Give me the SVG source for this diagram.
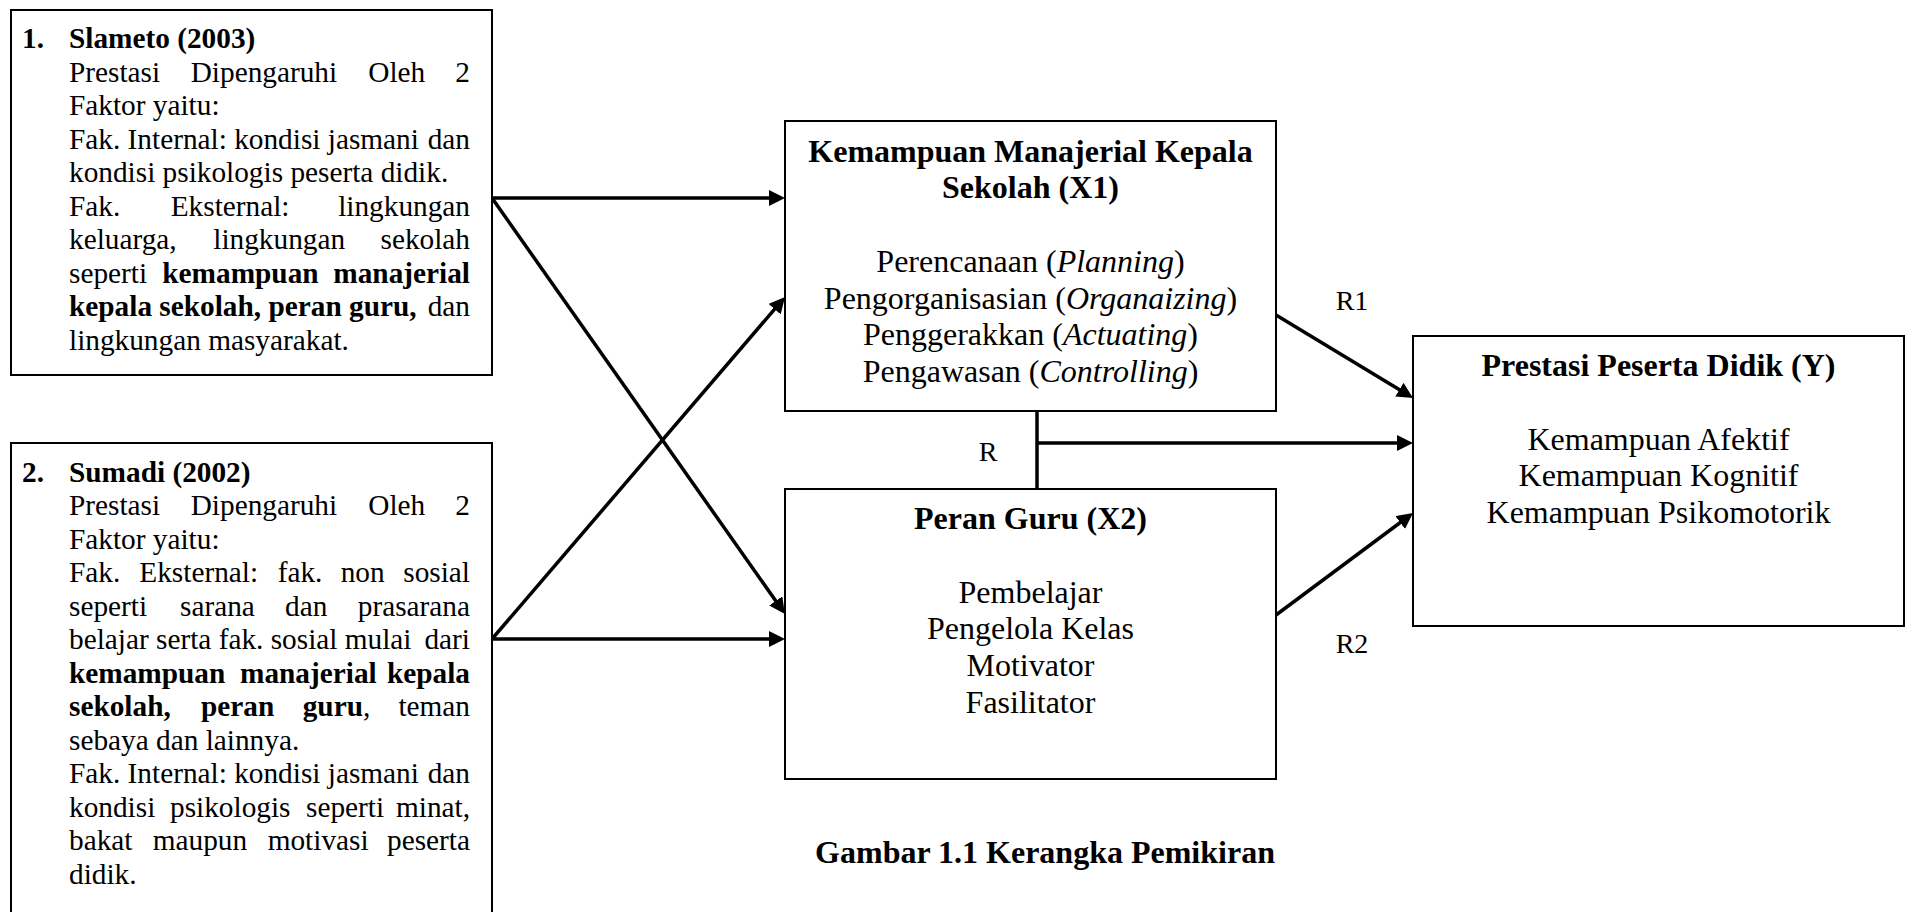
<svg xmlns="http://www.w3.org/2000/svg" width="1906" height="912" viewBox="0 0 1906 912">
<style>
.t{font-family:"Liberation Serif","Times New Roman",serif;fill:#000}
.l{font-size:29.3px}
.m{font-size:32px;text-anchor:middle}
.r{font-size:28px;text-anchor:middle}
.b{font-weight:bold}
.i{font-style:italic}
.e{text-anchor:end}
.box{fill:#fff;stroke:#000;stroke-width:2}
.c{stroke:#000;stroke-width:3.5;fill:none}
.a{marker-end:url(#ah)}
</style>
<defs>
<marker id="ah" markerUnits="userSpaceOnUse" markerWidth="16" markerHeight="16" refX="6" refY="8" orient="auto" viewBox="0 0 16 16">
<path d="M0,0 L16,8 L0,16 z" fill="#000"/>
</marker>
</defs>
<rect width="1906" height="912" fill="#fff"/>

<g id="connectors">
<line class="c a" x1="492" y1="198" x2="775" y2="198"/>
<line class="c a" x1="492" y1="198" x2="779.2" y2="605.8"/>
<line class="c a" x1="492" y1="639" x2="778.5" y2="304.6"/>
<line class="c a" x1="492" y1="639" x2="775" y2="639"/>
<line class="c" x1="1037" y1="411" x2="1037" y2="489"/>
<line class="c a" x1="1037" y1="443" x2="1403" y2="443"/>
<line class="c a" x1="1276" y1="315" x2="1404.5" y2="392.8"/>
<line class="c a" x1="1276" y1="615" x2="1405" y2="519"/>
<text class="t r" x="988" y="461">R</text>
<text class="t r" x="1352" y="310">R1</text>
<text class="t r" x="1352" y="653">R2</text>
</g>

<g id="slameto">
<rect class="box" x="11" y="10" width="481" height="365"/>
<text class="t l b" x="22" y="48">1.</text>
<text class="t l b" x="69" y="48">Slameto (2003)</text>
<text class="t l" y="81.5"><tspan x="69">Prestasi</tspan><tspan x="190.7">Dipengaruhi</tspan><tspan x="368.3">Oleh</tspan></text>
<text class="t l e" x="470" y="81.5">2</text>
<text class="t l" x="69" y="115">Faktor yaitu:</text>
<text class="t l" x="69" y="148.5">Fak. Internal: kondisi jasmani</text>
<text class="t l e" x="470" y="148.5">dan</text>
<text class="t l" x="69" y="182">kondisi psikologis peserta didik.</text>
<text class="t l" y="215.5"><tspan x="69">Fak.</tspan><tspan x="170.7">Eksternal:</tspan></text>
<text class="t l e" x="470" y="215.5">lingkungan</text>
<text class="t l" y="249"><tspan x="69">keluarga,</tspan><tspan x="213.3">lingkungan</tspan></text>
<text class="t l e" x="470" y="249">sekolah</text>
<text class="t l" y="282.5"><tspan x="69">seperti</tspan><tspan class="b" x="162.3">kemampuan</tspan></text>
<text class="t l b e" x="470" y="282.5">manajerial</text>
<text class="t l b" x="69" y="316">kepala sekolah, peran guru,</text>
<text class="t l e" x="470" y="316">dan</text>
<text class="t l" x="69" y="349.5">lingkungan masyarakat.</text>
</g>

<g id="sumadi">
<rect class="box" x="11" y="443" width="481" height="520"/>
<text class="t l b" x="22" y="481.5">2.</text>
<text class="t l b" x="69" y="481.5">Sumadi (2002)</text>
<text class="t l" y="515"><tspan x="69">Prestasi</tspan><tspan x="190.7">Dipengaruhi</tspan><tspan x="368.3">Oleh</tspan></text>
<text class="t l e" x="470" y="515">2</text>
<text class="t l" x="69" y="548.5">Faktor yaitu:</text>
<text class="t l" y="582"><tspan x="69">Fak.</tspan><tspan x="139.3">Eksternal:</tspan><tspan x="277.7">fak.</tspan><tspan x="340.7">non</tspan></text>
<text class="t l e" x="470" y="582">sosial</text>
<text class="t l" y="615.5"><tspan x="69">seperti</tspan><tspan x="180">sarana</tspan><tspan x="285">dan</tspan></text>
<text class="t l e" x="470" y="615.5">prasarana</text>
<text class="t l" x="69" y="649">belajar serta fak. sosial mulai</text>
<text class="t l e" x="470" y="649">dari</text>
<text class="t l b" y="682.5"><tspan x="69">kemampuan</tspan><tspan x="240">manajerial</tspan></text>
<text class="t l b e" x="470" y="682.5">kepala</text>
<text class="t l" y="716"><tspan class="b" x="69">sekolah,</tspan><tspan class="b" x="201">peran</tspan><tspan class="b" x="302.7">guru</tspan>,</text>
<text class="t l e" x="470" y="716">teman</text>
<text class="t l" x="69" y="749.5">sebaya dan lainnya.</text>
<text class="t l" x="69" y="783">Fak. Internal: kondisi jasmani</text>
<text class="t l e" x="470" y="783">dan</text>
<text class="t l" y="816.5"><tspan x="69">kondisi</tspan><tspan x="170">psikologis</tspan><tspan x="306">seperti</tspan></text>
<text class="t l e" x="470" y="816.5">minat,</text>
<text class="t l" y="850"><tspan x="69">bakat</tspan><tspan x="152.7">maupun</tspan><tspan x="267.7">motivasi</tspan></text>
<text class="t l e" x="470" y="850">peserta</text>
<text class="t l" x="69" y="883.5">didik.</text>
</g>

<g id="x1">
<rect class="box" x="785" y="121" width="491" height="290"/>
<text class="t m b" x="1030.5" y="161.7">Kemampuan Manajerial Kepala</text>
<text class="t m b" x="1030.5" y="198.4">Sekolah (X1)</text>
<text class="t m" x="1030.5" y="272">Perencanaan (<tspan class="i">Planning</tspan>)</text>
<text class="t m" x="1030.5" y="308.7">Pengorganisasian (<tspan class="i">Organaizing</tspan>)</text>
<text class="t m" x="1030.5" y="345.4">Penggerakkan (<tspan class="i">Actuating</tspan>)</text>
<text class="t m" x="1030.5" y="382.1">Pengawasan (<tspan class="i">Controlling</tspan>)</text>
</g>

<g id="x2">
<rect class="box" x="785" y="489" width="491" height="290"/>
<text class="t m b" x="1030.5" y="528.5">Peran Guru (X2)</text>
<text class="t m" x="1030.5" y="602.5">Pembelajar</text>
<text class="t m" x="1030.5" y="639.2">Pengelola Kelas</text>
<text class="t m" x="1030.5" y="675.9">Motivator</text>
<text class="t m" x="1030.5" y="712.6">Fasilitator</text>
</g>

<g id="y">
<rect class="box" x="1413" y="336" width="491" height="290"/>
<text class="t m b" x="1658.5" y="376">Prestasi Peserta Didik (Y)</text>
<text class="t m" x="1658.5" y="449.6">Kemampuan Afektif</text>
<text class="t m" x="1658.5" y="486.3">Kemampuan Kognitif</text>
<text class="t m" x="1658.5" y="523">Kemampuan Psikomotorik</text>
</g>

<g id="caption">
<text class="t m b" x="1045" y="863">Gambar 1.1 Kerangka Pemikiran</text>
</g>
</svg>
